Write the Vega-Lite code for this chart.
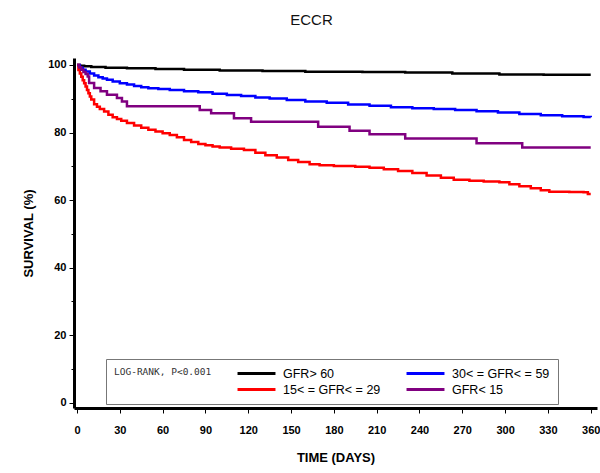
{
  "$schema": "https://vega.github.io/schema/vega-lite/v6.json",
  "autosize": "none",
  "width": 523,
  "height": 350,
  "padding": {"left": 74, "top": 58, "right": 3, "bottom": 65},
  "background": "white",
  "title": {"text": "ECCR", "font": "Liberation Sans", "fontSize": 15, "fontWeight": "normal", "color": "#111", "anchor": "middle", "offset": 30, "dx": -24},
  "config": {
    "view": {"stroke": null},
    "axis": {"grid": false, "domainColor": "black", "domainWidth": 3, "tickColor": "black", "tickWidth": 1, "tickSize": 5,
      "labelFont": "Liberation Sans", "labelFontWeight": "bold", "labelFontSize": 11, "labelColor": "black",
      "titleFont": "Liberation Sans", "titleFontWeight": "bold", "titleFontSize": 13, "titleColor": "black"}
  },
  "data": {"values": [
    {"group": "GFR> 60", "day": 0, "surv": 100},
    {"group": "GFR> 60", "day": 2, "surv": 99.8},
    {"group": "GFR> 60", "day": 5, "surv": 99.6},
    {"group": "GFR> 60", "day": 10, "surv": 99.4},
    {"group": "GFR> 60", "day": 20, "surv": 99.2},
    {"group": "GFR> 60", "day": 35, "surv": 99.0},
    {"group": "GFR> 60", "day": 55, "surv": 98.8},
    {"group": "GFR> 60", "day": 75, "surv": 98.6},
    {"group": "GFR> 60", "day": 100, "surv": 98.4},
    {"group": "GFR> 60", "day": 130, "surv": 98.2},
    {"group": "GFR> 60", "day": 160, "surv": 98.0},
    {"group": "GFR> 60", "day": 200, "surv": 97.9},
    {"group": "GFR> 60", "day": 230, "surv": 97.8},
    {"group": "GFR> 60", "day": 263, "surv": 97.5},
    {"group": "GFR> 60", "day": 296, "surv": 97.2},
    {"group": "GFR> 60", "day": 327, "surv": 97.1},
    {"group": "GFR> 60", "day": 360, "surv": 97.1},

    {"group": "30< = GFR< = 59", "day": 0, "surv": 100},
    {"group": "30< = GFR< = 59", "day": 2, "surv": 99.2},
    {"group": "30< = GFR< = 59", "day": 4, "surv": 98.6},
    {"group": "30< = GFR< = 59", "day": 6, "surv": 98.1},
    {"group": "30< = GFR< = 59", "day": 9, "surv": 97.5},
    {"group": "30< = GFR< = 59", "day": 12, "surv": 96.9},
    {"group": "30< = GFR< = 59", "day": 15, "surv": 96.4},
    {"group": "30< = GFR< = 59", "day": 18, "surv": 96.0},
    {"group": "30< = GFR< = 59", "day": 21, "surv": 95.6},
    {"group": "30< = GFR< = 59", "day": 25, "surv": 95.1},
    {"group": "30< = GFR< = 59", "day": 30, "surv": 94.6},
    {"group": "30< = GFR< = 59", "day": 35, "surv": 94.2},
    {"group": "30< = GFR< = 59", "day": 40, "surv": 93.8},
    {"group": "30< = GFR< = 59", "day": 45, "surv": 93.4},
    {"group": "30< = GFR< = 59", "day": 50, "surv": 93.1},
    {"group": "30< = GFR< = 59", "day": 57, "surv": 92.9},
    {"group": "30< = GFR< = 59", "day": 65, "surv": 92.6},
    {"group": "30< = GFR< = 59", "day": 75, "surv": 92.2},
    {"group": "30< = GFR< = 59", "day": 85, "surv": 91.9},
    {"group": "30< = GFR< = 59", "day": 95, "surv": 91.5},
    {"group": "30< = GFR< = 59", "day": 105, "surv": 91.1},
    {"group": "30< = GFR< = 59", "day": 115, "surv": 90.8},
    {"group": "30< = GFR< = 59", "day": 125, "surv": 90.4},
    {"group": "30< = GFR< = 59", "day": 135, "surv": 90.1},
    {"group": "30< = GFR< = 59", "day": 147, "surv": 89.6},
    {"group": "30< = GFR< = 59", "day": 160, "surv": 89.2},
    {"group": "30< = GFR< = 59", "day": 175, "surv": 88.8},
    {"group": "30< = GFR< = 59", "day": 190, "surv": 88.3},
    {"group": "30< = GFR< = 59", "day": 205, "surv": 87.9},
    {"group": "30< = GFR< = 59", "day": 220, "surv": 87.5},
    {"group": "30< = GFR< = 59", "day": 235, "surv": 87.2},
    {"group": "30< = GFR< = 59", "day": 250, "surv": 87.0},
    {"group": "30< = GFR< = 59", "day": 265, "surv": 86.7},
    {"group": "30< = GFR< = 59", "day": 280, "surv": 86.3},
    {"group": "30< = GFR< = 59", "day": 295, "surv": 85.9},
    {"group": "30< = GFR< = 59", "day": 310, "surv": 85.5},
    {"group": "30< = GFR< = 59", "day": 325, "surv": 85.1},
    {"group": "30< = GFR< = 59", "day": 340, "surv": 84.8},
    {"group": "30< = GFR< = 59", "day": 355, "surv": 84.6},
    {"group": "30< = GFR< = 59", "day": 360, "surv": 84.5},

    {"group": "15< = GFR< = 29", "day": 0, "surv": 100},
    {"group": "15< = GFR< = 29", "day": 1, "surv": 98.5},
    {"group": "15< = GFR< = 29", "day": 2, "surv": 97.5},
    {"group": "15< = GFR< = 29", "day": 3, "surv": 96.5},
    {"group": "15< = GFR< = 29", "day": 4, "surv": 95.5},
    {"group": "15< = GFR< = 29", "day": 5, "surv": 94.6},
    {"group": "15< = GFR< = 29", "day": 6, "surv": 93.6},
    {"group": "15< = GFR< = 29", "day": 7, "surv": 92.6},
    {"group": "15< = GFR< = 29", "day": 8, "surv": 91.6},
    {"group": "15< = GFR< = 29", "day": 9, "surv": 90.7},
    {"group": "15< = GFR< = 29", "day": 10, "surv": 89.8},
    {"group": "15< = GFR< = 29", "day": 12, "surv": 88.4},
    {"group": "15< = GFR< = 29", "day": 14, "surv": 87.6},
    {"group": "15< = GFR< = 29", "day": 16, "surv": 87.0},
    {"group": "15< = GFR< = 29", "day": 19, "surv": 86.2},
    {"group": "15< = GFR< = 29", "day": 22, "surv": 85.3},
    {"group": "15< = GFR< = 29", "day": 25, "surv": 84.5},
    {"group": "15< = GFR< = 29", "day": 28, "surv": 84.0},
    {"group": "15< = GFR< = 29", "day": 31, "surv": 83.5},
    {"group": "15< = GFR< = 29", "day": 35, "surv": 82.8},
    {"group": "15< = GFR< = 29", "day": 40, "surv": 82.1},
    {"group": "15< = GFR< = 29", "day": 45, "surv": 81.4},
    {"group": "15< = GFR< = 29", "day": 50, "surv": 80.8},
    {"group": "15< = GFR< = 29", "day": 55, "surv": 80.3},
    {"group": "15< = GFR< = 29", "day": 60, "surv": 79.8},
    {"group": "15< = GFR< = 29", "day": 65, "surv": 79.3},
    {"group": "15< = GFR< = 29", "day": 70, "surv": 78.6},
    {"group": "15< = GFR< = 29", "day": 75, "surv": 77.8},
    {"group": "15< = GFR< = 29", "day": 80, "surv": 77.2},
    {"group": "15< = GFR< = 29", "day": 85, "surv": 76.6},
    {"group": "15< = GFR< = 29", "day": 90, "surv": 76.2},
    {"group": "15< = GFR< = 29", "day": 95, "surv": 75.9},
    {"group": "15< = GFR< = 29", "day": 100, "surv": 75.6},
    {"group": "15< = GFR< = 29", "day": 108, "surv": 75.2},
    {"group": "15< = GFR< = 29", "day": 117, "surv": 74.8},
    {"group": "15< = GFR< = 29", "day": 125, "surv": 74.0},
    {"group": "15< = GFR< = 29", "day": 132, "surv": 73.3},
    {"group": "15< = GFR< = 29", "day": 140, "surv": 72.6},
    {"group": "15< = GFR< = 29", "day": 148, "surv": 71.9},
    {"group": "15< = GFR< = 29", "day": 155, "surv": 71.3},
    {"group": "15< = GFR< = 29", "day": 163, "surv": 70.6},
    {"group": "15< = GFR< = 29", "day": 170, "surv": 70.3},
    {"group": "15< = GFR< = 29", "day": 180, "surv": 70.1},
    {"group": "15< = GFR< = 29", "day": 195, "surv": 69.9},
    {"group": "15< = GFR< = 29", "day": 205, "surv": 69.6},
    {"group": "15< = GFR< = 29", "day": 215, "surv": 69.1},
    {"group": "15< = GFR< = 29", "day": 225, "surv": 68.6},
    {"group": "15< = GFR< = 29", "day": 235, "surv": 68.0},
    {"group": "15< = GFR< = 29", "day": 245, "surv": 67.3},
    {"group": "15< = GFR< = 29", "day": 255, "surv": 66.6},
    {"group": "15< = GFR< = 29", "day": 264, "surv": 66.0},
    {"group": "15< = GFR< = 29", "day": 275, "surv": 65.7},
    {"group": "15< = GFR< = 29", "day": 285, "surv": 65.5},
    {"group": "15< = GFR< = 29", "day": 296, "surv": 65.3},
    {"group": "15< = GFR< = 29", "day": 303, "surv": 64.7},
    {"group": "15< = GFR< = 29", "day": 310, "surv": 64.1},
    {"group": "15< = GFR< = 29", "day": 318, "surv": 63.5},
    {"group": "15< = GFR< = 29", "day": 325, "surv": 62.9},
    {"group": "15< = GFR< = 29", "day": 331, "surv": 62.5},
    {"group": "15< = GFR< = 29", "day": 345, "surv": 62.4},
    {"group": "15< = GFR< = 29", "day": 355, "surv": 62.3},
    {"group": "15< = GFR< = 29", "day": 358, "surv": 61.8},
    {"group": "15< = GFR< = 29", "day": 360, "surv": 61.8},

    {"group": "GFR< 15", "day": 0, "surv": 100},
    {"group": "GFR< 15", "day": 1.5, "surv": 99.3},
    {"group": "GFR< 15", "day": 3, "surv": 98.6},
    {"group": "GFR< 15", "day": 4.5, "surv": 97.9},
    {"group": "GFR< 15", "day": 6, "surv": 97.3},
    {"group": "GFR< 15", "day": 7.5, "surv": 96.6},
    {"group": "GFR< 15", "day": 8.5, "surv": 94.7},
    {"group": "GFR< 15", "day": 12, "surv": 93.2},
    {"group": "GFR< 15", "day": 16.5, "surv": 92.2},
    {"group": "GFR< 15", "day": 21, "surv": 91.2},
    {"group": "GFR< 15", "day": 28, "surv": 90.2},
    {"group": "GFR< 15", "day": 31.5, "surv": 89.2},
    {"group": "GFR< 15", "day": 35, "surv": 87.8},
    {"group": "GFR< 15", "day": 86, "surv": 86.7},
    {"group": "GFR< 15", "day": 94, "surv": 85.7},
    {"group": "GFR< 15", "day": 110, "surv": 84.2},
    {"group": "GFR< 15", "day": 122, "surv": 83.2},
    {"group": "GFR< 15", "day": 169, "surv": 81.7},
    {"group": "GFR< 15", "day": 191, "surv": 80.5},
    {"group": "GFR< 15", "day": 205, "surv": 79.5},
    {"group": "GFR< 15", "day": 230, "surv": 78.2},
    {"group": "GFR< 15", "day": 280, "surv": 76.8},
    {"group": "GFR< 15", "day": 312, "surv": 75.6},
    {"group": "GFR< 15", "day": 360, "surv": 75.6}
  ]},
  "mark": {"type": "line", "interpolate": "step-after", "strokeWidth": 2.5},
  "encoding": {
    "x": {"field": "day", "type": "quantitative",
      "scale": {"domain": [-2.1, 364.4], "nice": false, "zero": false},
      "axis": {"title": "TIME  (DAYS)", "values": [0, 30, 60, 90, 120, 150, 180, 210, 240, 270, 300, 330, 360], "labelPadding": 11, "titlePadding": 16, "labelFlush": false, "labelOverlap": false}},
    "y": {"field": "surv", "type": "quantitative",
      "scale": {"domain": [-1.57, 102.07], "nice": false, "zero": false},
      "axis": {"title": "SURVIVAL  (%)", "values": [0, 10, 20, 30, 40, 50, 60, 70, 80, 90, 100], "labelExpr": "datum.value % 20 === 0 ? datum.label : ''", "tickSize": {"condition": {"test": "datum.value % 20 === 0", "value": 5}, "value": 3}, "labelPadding": 3, "titlePadding": 12, "labelFlush": false, "labelOverlap": false}},
    "color": {"field": "group", "type": "nominal",
      "scale": {"domain": ["GFR> 60", "30< = GFR< = 59", "15< = GFR< = 29", "GFR< 15"], "range": ["#000000", "#0000ff", "#ff0000", "#800080"]},
      "legend": {"orient": "none", "legendX": 32, "legendY": 301, "direction": "horizontal", "columns": 2,
        "title": "LOG-RANK, P<0.001", "titleOrient": "left", "titleAnchor": "start", "titleBaseline": "top", "titleFont": "DejaVu Sans Mono", "titleFontSize": 9.5, "titleFontWeight": "normal", "titleColor": "#333", "titlePadding": 14,
        "fillColor": "white", "strokeColor": "#777", "padding": 8, "columnPadding": 14, "rowPadding": 3,
        "symbolType": "M-4,0H4", "symbolSize": 90, "symbolStrokeWidth": 3, "symbolOffset": 24,
        "labelFont": "Liberation Sans", "labelFontSize": 12.5, "labelColor": "black", "labelOffset": 20, "labelLimit": 200}}
  }
}
